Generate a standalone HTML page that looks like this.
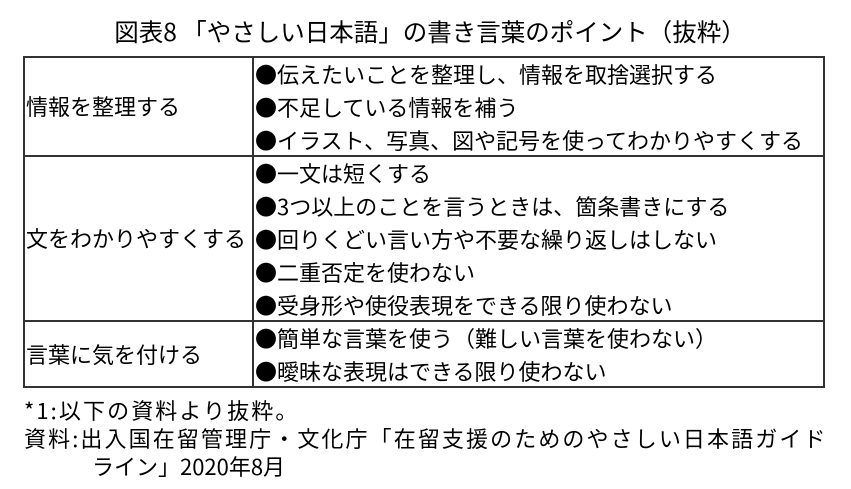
<!DOCTYPE html>
<html><head><meta charset="utf-8"><style>
body{margin:0;width:851px;height:489px;background:#fff;font-family:"Noto Sans CJK JP","Liberation Sans",sans-serif;color:#000;position:relative;overflow:hidden}
.t{position:absolute;white-space:nowrap;font-size:22px;line-height:33px}
.b{position:absolute;background:#333}
</style></head><body>
<div class="t" style="left:0;width:860px;text-align:center;top:15px;font-size:24.5px">図表8 「やさしい日本語」の書き言葉のポイント（抜粋）</div>
<div class="b" style="left:23px;top:56px;width:802px;height:2px"></div>
<div class="b" style="left:23px;top:155px;width:802px;height:2px"></div>
<div class="b" style="left:23px;top:320px;width:802px;height:2px"></div>
<div class="b" style="left:23px;top:386px;width:802px;height:2px"></div>
<div class="b" style="left:23px;top:56px;width:2px;height:332px"></div>
<div class="b" style="left:252px;top:56px;width:2px;height:332px"></div>
<div class="b" style="left:823px;top:56px;width:2px;height:332px"></div>
<div class="t" style="left:26px;top:90px">情報を整理する</div>
<div class="t" style="left:26px;top:222px">文をわかりやすくする</div>
<div class="t" style="left:26px;top:338px">言葉に気を付ける</div>
<div class="t" style="left:255px;top:58px">●伝えたいことを整理し、情報を取捨選択する<br>●不足している情報を補う<br>●イラスト、写真、図や記号を使ってわかりやすくする</div>
<div class="t" style="left:255px;top:157px">●一文は短くする<br>●3つ以上のことを言うときは、箇条書きにする<br>●回りくどい言い方や不要な繰り返しはしない<br>●二重否定を使わない<br>●受身形や使役表現をできる限り使わない</div>
<div class="t" style="left:255px;top:322px">●簡単な言葉を使う（難しい言葉を使わない）<br>●曖昧な表現はできる限り使わない</div>
<div class="t" style="left:24px;top:396px;font-size:22px;line-height:28px;letter-spacing:2.1px">*1:以下の資料より抜粋。<br>資料:出入国在留管理庁・文化庁「在留支援のためのやさしい日本語ガイド</div>
<div class="t" style="left:92px;top:452px;font-size:22px;line-height:28px">ライン」2020年8月</div>
</body></html>
